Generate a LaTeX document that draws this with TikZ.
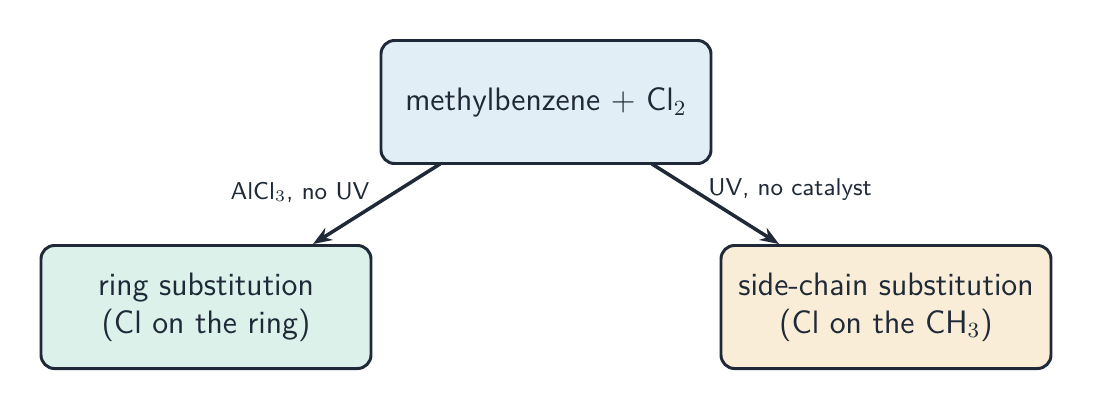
\documentclass[tikz,border=0pt]{standalone}
\usepackage{amsmath}
\renewcommand{\familydefault}{\sfdefault}
\definecolor{edgec}{HTML}{1F2937}
\definecolor{topfill}{HTML}{E1EEF6}
\definecolor{leftfill}{HTML}{DDF1EB}
\definecolor{rightfill}{HTML}{FAEDD7}
\tikzset{
  box/.style={draw=edgec, line width=1.1pt, rounded corners=5pt, minimum width=330*0.013cm, minimum height=123*0.013cm, align=center, font=\large, text=edgec},
  flow/.style={-{Stealth[length=7pt]}, draw=edgec, line width=1.3pt},
  cond/.style={font=\small, text=edgec}
}
\usetikzlibrary{arrows.meta}
\begin{document}
\begin{tikzpicture}[x=0.013cm, y=-0.013cm]
  \useasboundingbox (0,0) rectangle (1093,411);
  \node[box, fill=topfill] (start) at (546,102) {methylbenzene + Cl$_2$};
  \node[box, fill=leftfill] (ring) at (206,307) {ring substitution\\(Cl on the ring)};
  \node[box, fill=rightfill] (side) at (886,307) {side-chain substitution\\(Cl on the CH$_3$)};
  \coordinate (a1) at (440,164);
  \coordinate (a2) at (652,164);
  \draw[flow] (a1) -- (ring.north -| 313,0);
  \draw[flow] (a2) -- (side.north -| 779,0);
  \node[cond] at (300,192) {AlCl$_3$, no UV};
  \node[cond] at (790,190) {UV, no catalyst};
\end{tikzpicture}
\end{document}
